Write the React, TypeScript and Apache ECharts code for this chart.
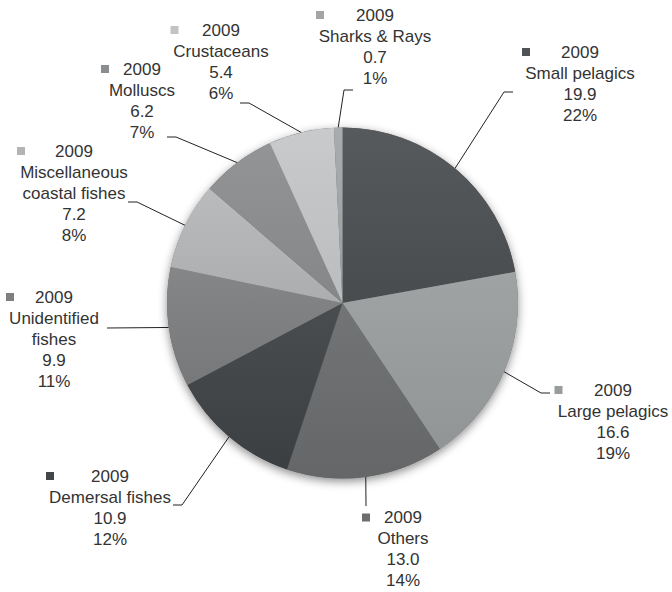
import React, { useEffect, useRef } from 'react';
import * as echarts from 'echarts';

const YEAR = '2009';
const categories = [
  'Small pelagics',
  'Large pelagics',
  'Others',
  'Demersal fishes',
  'Unidentified\nfishes',
  'Miscellaneous\ncoastal fishes',
  'Molluscs',
  'Crustaceans',
  'Sharks & Rays',
];
const values = [19.9, 16.6, 13.0, 10.9, 9.9, 7.2, 6.2, 5.4, 0.7];
const colors = ['#505355', '#999c9d', '#6b6d6f', '#434648', '#7d7f81', '#b2b4b5', '#8b8d8e', '#c1c3c4', '#a2a4a5'];

// Label placement: top-centre of the text block, and leader-line end (lx, ly)
const labelPos = [
  { x: 580, y: 41.5, lx: 513, ly: 92, elbow: 9 },
  { x: 613, y: 379.5, lx: 550, ly: 393, elbow: 9 },
  { x: 403, y: 507, lx: 366, ly: 506, elbow: 0 },
  { x: 110, y: 465.5, lx: 173, ly: 505, elbow: 9 },
  { x: 54, y: 286.5, lx: 107, ly: 328, elbow: 0 },
  { x: 74, y: 140.5, lx: 128, ly: 202, elbow: 9 },
  { x: 142, y: 58.5, lx: 167, ly: 137, elbow: 9 },
  { x: 221, y: 19.5, lx: 240, ly: 103, elbow: 9 },
  { x: 375, y: 4.5, lx: 353, ly: 90, elbow: 9 },
];

const FONT = "'Liberation Sans', Arial, Helvetica, sans-serif";
const FONT_SIZE = 17;

function shade(hex: string, amt: number) {
  const n = parseInt(hex.slice(1), 16);
  const c = (v: number) => Math.max(0, Math.min(255, v + amt));
  const r = c((n >> 16) & 255), g = c((n >> 8) & 255), b = c(n & 255);
  return `rgb(${r},${g},${b})`;
}

export default function App() {
  const ref = useRef<HTMLDivElement>(null);
  useEffect(() => {
    document.body.style.margin = '0';
    if (!ref.current) return;
    const chart = echarts.init(ref.current, undefined, { renderer: 'svg' });

    const canvas = document.createElement('canvas');
    const ctx = canvas.getContext('2d')!;
    ctx.font = `${FONT_SIZE}px ${FONT}`;
    const widths = values.map((v, i) => {
      const lines = [YEAR, ...categories[i].split('\n'), v.toFixed(1), '100%'];
      const w = Math.max(...lines.map((s) => ctx.measureText(s).width + (s === YEAR ? 16 : 0)));
      return Math.max(82, Math.round(w + 6));
    });

    const rich: any = {
      t: { align: 'center', fontSize: FONT_SIZE, lineHeight: 21, color: '#333', fontFamily: FONT },
      g: { width: 8, height: 8, align: 'right' },
    };
    colors.forEach((c, i) => {
      rich['k' + i] = { width: 8, height: 8, backgroundColor: c, align: 'left' };
    });

    chart.setOption({
      animation: false,
      backgroundColor: '#ffffff',
      series: [
        {
          type: 'pie',
          silent: true,
          z: 1,
          center: [342.5, 303],
          radius: 175.5,
          label: { show: false },
          labelLine: { show: false },
          itemStyle: {
            color: '#6a6a6a',
            shadowBlur: 10,
            shadowOffsetY: 3,
            shadowColor: 'rgba(0,0,0,0.45)',
          },
          data: [{ value: 1 }],
        },
        {
          type: 'pie',
          z: 2,
          center: [342.5, 303],
          radius: 175.5,
          startAngle: 90,
          clockwise: true,
          avoidLabelOverlap: false,
          percentPrecision: 0,
          emphasis: { disabled: true },
          itemStyle: { borderWidth: 0 },
          label: {
            show: true,
            position: 'outside',
            overflow: 'none',
            align: 'center',
            fontFamily: FONT,
            fontSize: FONT_SIZE,
            lineHeight: 21,
            color: '#333',
            rich,
            formatter: (p: any) => {
              const i = p.dataIndex;
              const nameLines = categories[i]
                .split('\n')
                .map((s) => `{t|${s}}`)
                .join('\n');
              return `{k${i}|}{t|${YEAR}}{g|}\n${nameLines}\n{t|${values[i].toFixed(1)}}\n{t|${p.percent}%}`;
            },
          },
          labelLine: {
            show: true,
            length: 10,
            length2: 10,
            lineStyle: { color: '#222', width: 1 },
          },
          labelLayout: (params: any) => {
            const i = params.dataIndex;
            const p = labelPos[i];
            const res: any = { x: p.x, y: p.y, align: 'center', verticalAlign: 'top' };
            const pts = params.labelLinePoints;
            if (pts && pts[0]) {
              const a = pts[0];
              const dir = Math.sign(a[0] - p.lx);
              res.labelLinePoints = [
                [a[0], a[1]],
                [p.lx + dir * p.elbow, p.ly],
                [p.lx, p.ly],
              ];
            }
            return res;
          },
          data: values.map((v, i) => ({
            value: v,
            name: categories[i],
            itemStyle: {
              color: new echarts.graphic.LinearGradient(0, 0, 0, 1, [
                { offset: 0, color: shade(colors[i], 7) },
                { offset: 1, color: shade(colors[i], -7) },
              ]),
            },
            label: { width: widths[i] },
          })),
        },
      ],
    });
    return () => chart.dispose();
  }, []);
  return <div ref={ref} style={{ width: 672, height: 592 }} />;
}
